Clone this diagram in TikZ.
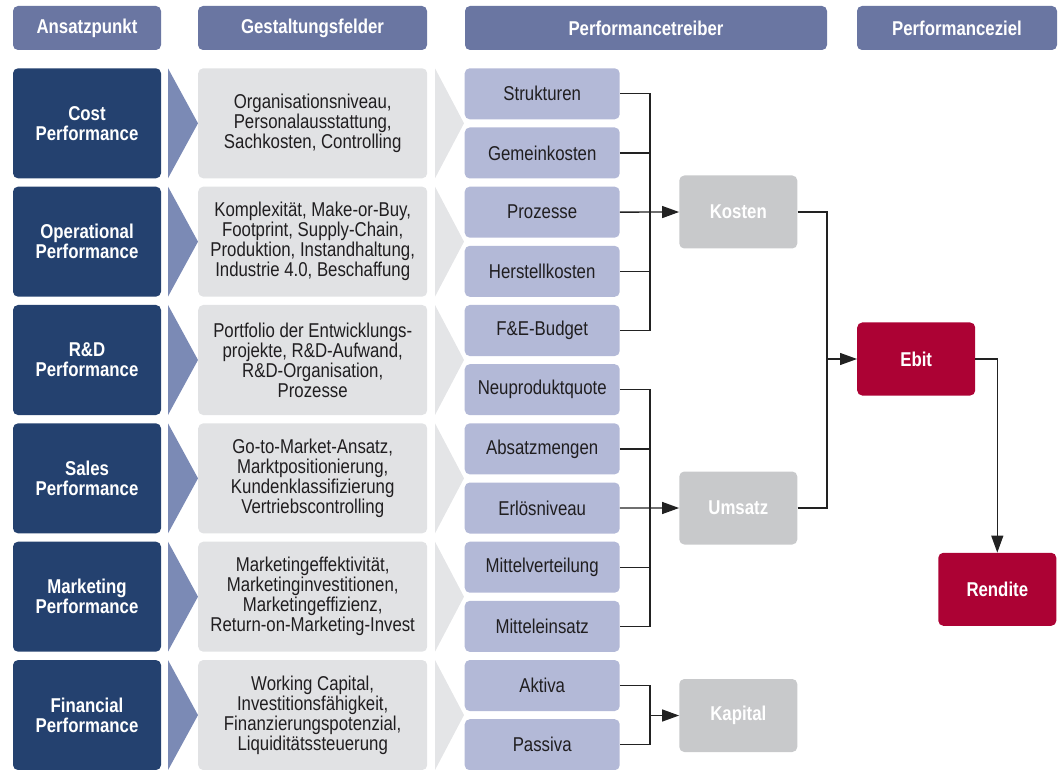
\documentclass[tikz,border=0pt]{standalone}
\usepackage{fontspec}
\setmainfont{Liberation Sans}[FakeStretch=0.84]
\usetikzlibrary{arrows.meta}

\definecolor{hdrblue}{HTML}{6A76A2}
\definecolor{navy}{HTML}{24416F}
\definecolor{wedge}{HTML}{7B8AB5}
\definecolor{fieldgray}{HTML}{E1E2E4}
\definecolor{wedgegray}{HTML}{E4E5E7}
\definecolor{driver}{HTML}{B3B9D7}
\definecolor{goalgray}{HTML}{C8C9CB}
\definecolor{ebitred}{HTML}{AC0234}
\definecolor{ink}{HTML}{201E20}
\definecolor{wire}{HTML}{222222}

\begin{document}
\begin{tikzpicture}[x=1pt,y=-1pt,
  every node/.style={font=\fontsize{20}{20}\selectfont, align=center, inner sep=0pt},
  box/.style={rectangle, rounded corners=5pt},
  hdr/.style={box, fill=hdrblue, text=white, font=\fontsize{20}{20}\selectfont\bfseries, minimum height=44pt},
  approach/.style={box, fill=navy, text=white, font=\fontsize{20}{20}\selectfont\bfseries, minimum width=148pt, minimum height=110pt},
  field/.style={box, fill=fieldgray, text=ink, minimum width=229pt, minimum height=110pt},
  drv/.style={box, fill=driver, text=ink, minimum width=155pt, minimum height=51pt},
  goal/.style={box, fill=goalgray, text=white, font=\fontsize{20}{20}\selectfont\bfseries, minimum width=118pt, minimum height=73pt},
  result/.style={box, fill=ebitred, text=white, font=\fontsize{20}{20}\selectfont\bfseries, minimum width=118pt, minimum height=73pt},
  conn/.style={draw=wire, line width=1.3pt},
  arr/.style={conn, -{Triangle[length=17pt,width=12pt]}}
]
\useasboundingbox (0,0) rectangle (1061,770);

% column headers
\node[hdr, minimum width=148pt] (h1) at (87,28) {Ansatzpunkt};
\node[hdr, minimum width=229pt] (h2) at (312.5,28) {Gestaltungsfelder};
\node[hdr, minimum width=362pt] (h3) at (646,28) {Performancetreiber};
\node[hdr, minimum width=200pt] (h4) at (957,28) {Performanceziel};

% rows: approach, wedge, design fields, wedge
\foreach \i/\ap/\gf in {
  0/{Cost\\Performance}/{Organisationsniveau,\\Personalausstattung,\\Sachkosten, Controlling},
  1/{Operational\\Performance}/{Komplexität, Make-or-Buy,\\Footprint, Supply-Chain,\\Produktion, Instandhaltung,\\Industrie 4.0, Beschaffung},
  2/{R\&D\\Performance}/{Portfolio der Entwicklungs-\\projekte, R\&D-Aufwand,\\R\&D-Organisation,\\Prozesse},
  3/{Sales\\Performance}/{Go-to-Market-Ansatz,\\Marktpositionierung,\\Kundenklassifizierung\\Vertriebscontrolling},
  4/{Marketing\\Performance}/{Marketingeffektivität,\\Marketinginvestitionen,\\Marketingeffizienz,\\Return-on-Marketing-Invest},
  5/{Financial\\Performance}/{Working Capital,\\Investitionsfähigkeit,\\Finanzierungspotenzial,\\Liquiditätssteuerung}}{
  \pgfmathsetmacro{\top}{68.3+118.35*\i}
  \pgfmathsetmacro{\mid}{\top+55}
  \pgfmathsetmacro{\bot}{\top+110}
  \node[approach] (ap\i) at (87,\mid) {\ap};
  \fill[wedge] (168,\top) -- (198,\mid) -- (168,\bot) -- cycle;
  \node[field] (gf\i) at (312.7,\mid) {\gf};
  \fill[wedgegray] (435,\top) -- (464,\mid) -- (435,\bot) -- cycle;
}

% performance drivers
\foreach \j/\t in {1/Strukturen, 2/Gemeinkosten, 3/Prozesse, 4/Herstellkosten,
  5/F\&E-Budget, 6/Neuproduktquote, 7/Absatzmengen, 8/Erlösniveau,
  9/Mittelverteilung, 10/Mitteleinsatz, 11/Aktiva, 12/Passiva}{
  \pgfmathsetmacro{\cy}{68.3+25.5+59.175*(\j-1)}
  \node[drv] (d\j) at (542.2,\cy) {\t};
}

% aggregate targets
\node[goal] (kosten) at (738.3,212) {Kosten};
\node[goal] (umsatz) at (738.3,508) {Umsatz};
\node[goal] (kapital) at (738.3,715.5) {Kapital};
\node[result] (ebit) at (916.2,359) {Ebit};
\node[result] (rendite) at (997.3,589.3) {Rendite};

% bus lines
\coordinate (bx) at (650,0);
\coordinate (ex) at (827,0);

\draw[conn] (d1.east) -- (d1.east -| bx) -- (d5.east -| bx) -- (d5.east);
\draw[conn] (d2.east) -- (d2.east -| bx);
\draw[conn] (d4.east) -- (d4.east -| bx);
\draw[arr] (d3.east) -- (kosten.west);

\draw[conn] (d6.east) -- (d6.east -| bx) -- (d10.east -| bx) -- (d10.east);
\draw[conn] (d7.east) -- (d7.east -| bx);
\draw[conn] (d9.east) -- (d9.east -| bx);
\draw[arr] (d8.east) -- (umsatz.west);

\draw[conn] (d11.east) -- (d11.east -| bx) -- (d12.east -| bx) -- (d12.east);
\coordinate (kapin) at (bx |- kapital.west);
\draw[arr] (kapin) -- (kapital.west);

\draw[conn] (umsatz.east) -- (umsatz.east -| ex) -- (ebit.west -| ex);
\draw[arr] (kosten.east) -- (kosten.east -| ex) -- (ebit.west -| ex) -- (ebit.west);
\draw[arr] (ebit.east) -| (rendite.north);
\end{tikzpicture}
\end{document}
